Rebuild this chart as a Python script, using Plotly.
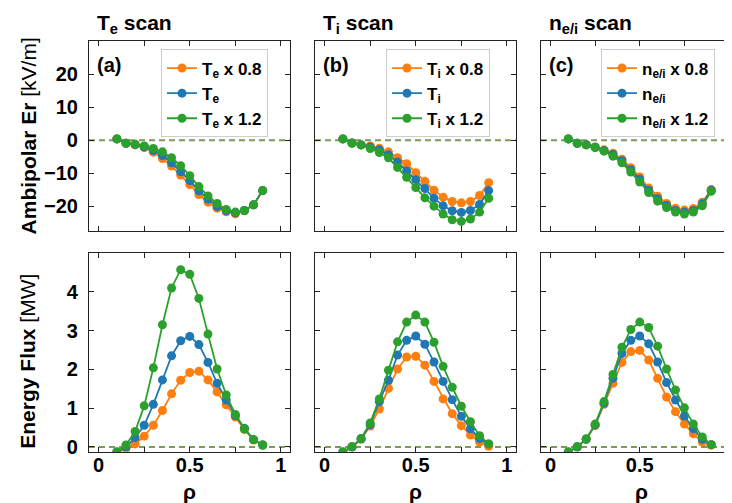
import plotly.graph_objects as go

rho = [0.10, 0.15, 0.20, 0.25, 0.30, 0.35, 0.40, 0.45, 0.50, 0.55, 0.60, 0.65, 0.70, 0.75, 0.80, 0.85, 0.90]

# Ambipolar Er [kV/m]
er_te_08 = [0.4, -0.9, -1.4, -2.2, -3.6, -5.5, -7.8, -10.5, -13.4, -16.4, -18.7, -20.5, -21.6, -22.2, -21.3, -19.5, -15.2]
er_te_10 = [0.4, -0.9, -1.3, -2.0, -3.1, -4.6, -6.8, -9.5, -12.2, -15.3, -17.8, -20.0, -21.3, -21.9, -21.2, -19.5, -15.2]
er_te_12 = [0.4, -0.9, -1.2, -1.7, -2.5, -3.5, -5.3, -7.7, -10.7, -14.0, -16.8, -19.1, -20.9, -21.7, -21.2, -19.5, -15.2]

er_ti_08 = [0.4, -0.8, -1.4, -1.7, -2.4, -3.5, -5.3, -7.1, -9.8, -12.4, -15.1, -17.2, -18.5, -18.9, -18.5, -16.7, -12.8]
er_ti_10 = [0.4, -0.8, -1.4, -2.0, -2.9, -4.4, -6.6, -9.3, -11.9, -14.6, -17.5, -19.8, -21.3, -21.8, -21.2, -19.4, -15.2]
er_ti_12 = [0.4, -0.9, -1.4, -2.5, -3.7, -5.3, -8.2, -11.2, -14.3, -17.4, -19.9, -22.3, -24.0, -24.5, -23.8, -21.7, -17.5]

er_n_08 = [0.4, -0.9, -1.3, -2.0, -2.9, -3.9, -5.7, -8.3, -11.1, -14.4, -16.9, -19.1, -20.5, -21.1, -20.6, -18.7, -14.9]
er_n_10 = [0.4, -0.9, -1.35, -2.1, -3.1, -4.3, -6.2, -8.9, -11.8, -15.1, -17.7, -19.7, -21.2, -21.7, -21.2, -19.2, -15.1]
er_n_12 = [0.4, -0.9, -1.4, -2.2, -3.3, -4.8, -6.8, -9.6, -12.6, -15.8, -18.4, -20.3, -21.7, -22.3, -21.7, -19.8, -15.4]

# Energy Flux [MW]
q_te_08 = [-0.13, -0.04, 0.08, 0.28, 0.56, 0.94, 1.37, 1.72, 1.92, 1.95, 1.73, 1.42, 1.09, 0.77, 0.45, 0.18, 0.05]
q_te_10 = [-0.13, 0.00, 0.24, 0.56, 1.10, 1.73, 2.35, 2.74, 2.85, 2.64, 2.18, 1.64, 1.21, 0.81, 0.48, 0.19, 0.05]
q_te_12 = [-0.13, 0.05, 0.40, 1.06, 2.04, 3.15, 4.10, 4.57, 4.45, 3.83, 2.91, 2.01, 1.34, 0.84, 0.47, 0.19, 0.05]

q_ti_08 = [-0.13, 0.00, 0.20, 0.54, 0.98, 1.51, 2.01, 2.32, 2.34, 2.11, 1.69, 1.24, 0.86, 0.55, 0.31, 0.13, 0.02]
q_ti_10 = [-0.13, 0.00, 0.21, 0.58, 1.17, 1.72, 2.37, 2.75, 2.86, 2.65, 2.19, 1.69, 1.22, 0.79, 0.47, 0.22, 0.08]
q_ti_12 = [-0.13, 0.01, 0.22, 0.62, 1.24, 1.98, 2.71, 3.22, 3.40, 3.22, 2.70, 2.08, 1.54, 1.05, 0.65, 0.29, 0.08]

q_n_08 = [-0.13, 0.00, 0.20, 0.55, 1.10, 1.64, 2.18, 2.46, 2.49, 2.24, 1.77, 1.29, 0.91, 0.59, 0.34, 0.13, 0.05]
q_n_10 = [-0.13, 0.00, 0.20, 0.57, 1.13, 1.77, 2.41, 2.75, 2.86, 2.66, 2.19, 1.66, 1.21, 0.80, 0.47, 0.20, 0.06]
q_n_12 = [-0.13, 0.01, 0.21, 0.59, 1.17, 1.87, 2.57, 3.03, 3.22, 3.08, 2.60, 2.01, 1.47, 1.01, 0.59, 0.26, 0.06]

panel_titles = ["T<sub>e</sub> scan", "T<sub>i</sub> scan", "n<sub>e/i</sub> scan"]
panel_labels = ["(a)", "(b)", "(c)"]
var_names = ["T<sub>e</sub>", "T<sub>i</sub>", "n<sub>e/i</sub>"]
x_ticks = [0, 0.25, 0.5, 0.75, 1]
x_ticktext = ["0", "", "0.5", "", "1"]
er_ticks = [-20, -10, 0, 10, 20]
q_ticks = [0, 1, 2, 3, 4]

colors = ["#ff7f0e", "#1f77b4", "#2ca02c"]
FONT = "Liberation Sans, Arial, Helvetica, sans-serif"

W, H = 732, 503
xpx = [(81, 282), (307, 508), (533, 730)]
top_px = (33, 226)
bot_px = (248, 449)


def xd(a, b):
    return [a / W, b / W]


def yd(a, b):
    return [1 - b / H, 1 - a / H]


er_sets = [(er_te_08, er_te_10, er_te_12), (er_ti_08, er_ti_10, er_ti_12), (er_n_08, er_n_10, er_n_12)]
q_sets = [(q_te_08, q_te_10, q_te_12), (q_ti_08, q_ti_10, q_ti_12), (q_n_08, q_n_10, q_n_12)]
suffix = [" x 0.8", "", " x 1.2"]

fig = go.Figure()
for p in range(3):
    top_ax = p + 1
    bot_ax = p + 4
    leg = "legend" if p == 0 else f"legend{p + 1}"
    for k in range(3):
        fig.add_trace(go.Scatter(
            x=rho, y=er_sets[p][k], mode="lines+markers",
            line=dict(color=colors[k], width=1.8),
            marker=dict(color=colors[k], size=9),
            name=var_names[p] + suffix[k],
            xaxis=f"x{top_ax}" if top_ax > 1 else "x",
            yaxis=f"y{top_ax}" if top_ax > 1 else "y",
            legend=leg, showlegend=True,
        ))
    for k in range(3):
        fig.add_trace(go.Scatter(
            x=rho, y=q_sets[p][k], mode="lines+markers",
            line=dict(color=colors[k], width=1.8),
            marker=dict(color=colors[k], size=9),
            name=var_names[p] + suffix[k],
            xaxis=f"x{bot_ax}", yaxis=f"y{bot_ax}",
            showlegend=False,
        ))

axis_common = dict(
    showline=True, linecolor="#222222", linewidth=1.2, mirror="allticks",
    ticks="inside", ticklen=5, tickwidth=1, tickcolor="#222222",
    showgrid=False, zeroline=False,
    tickfont=dict(family=FONT, size=20, color="black", weight="bold"),
)

layout = dict(
    width=W, height=H, margin=dict(l=0, r=0, t=0, b=0),
    plot_bgcolor="white", paper_bgcolor="white",
    font=dict(family=FONT, color="black"),
)

for p in range(3):
    a, b = xpx[p]
    for row, (ypx, ax_id) in enumerate([(top_px, p + 1), (bot_px, p + 4)]):
        xname = "xaxis" if ax_id == 1 else f"xaxis{ax_id}"
        yname = "yaxis" if ax_id == 1 else f"yaxis{ax_id}"
        ax_ref = "x" if ax_id == 1 else f"x{ax_id}"
        ay_ref = "y" if ax_id == 1 else f"y{ax_id}"
        layout[xname] = dict(
            axis_common, domain=xd(a, b), anchor=ay_ref, range=[-0.053, 1.05],
            tickvals=x_ticks, ticktext=x_ticktext,
            showticklabels=(row == 1), ticklabelstandoff=-5,
        )
        if row == 0:
            yr, yt = [-27.5, 30.1], er_ticks
        else:
            yr, yt = [-0.12, 5.0], q_ticks
        layout[yname] = dict(
            axis_common, domain=yd(*ypx), anchor=ax_ref, range=yr,
            tickvals=yt, showticklabels=(p == 0), ticklabelstandoff=6,
        )

fig.update_layout(**layout)

# dashed zero lines
for ax_id in range(1, 7):
    xr = "x domain" if ax_id == 1 else f"x{ax_id} domain"
    yr = "y" if ax_id == 1 else f"y{ax_id}"
    fig.add_shape(type="line", xref=xr, yref=yr, x0=0, x1=1, y0=0, y1=0,
                  line=dict(color="#7a9a55", width=1.8, dash="6px,4px"), layer="below")

# legends
leg_px = [(153, 42), (378, 42), (593, 42)]
for p in range(3):
    name = "legend" if p == 0 else f"legend{p + 1}"
    fig.update_layout(**{name: dict(
        x=leg_px[p][0] / W, y=1 - leg_px[p][1] / H, xanchor="left", yanchor="top",
        bgcolor="rgba(255,255,255,0.9)", bordercolor="#cccccc", borderwidth=1,
        font=dict(family=FONT, size=17, color="black", weight="bold"),
        tracegroupgap=0, itemwidth=30,
    )})

annotations = []
for p in range(3):
    a, b = xpx[p]
    annotations.append(dict(
        text=f"<b>{panel_titles[p]}</b>", x=(a + 6) / W, y=1 - 16 / H,
        xref="paper", yref="paper", xanchor="left", yanchor="middle",
        showarrow=False, font=dict(family=FONT, size=21, color="black"),
    ))
    annotations.append(dict(
        text=f"<b>{panel_labels[p]}</b>", x=(a + 6) / W, y=1 - 58 / H,
        xref="paper", yref="paper", xanchor="left", yanchor="middle",
        showarrow=False, font=dict(family=FONT, size=20, color="black"),
    ))
    annotations.append(dict(
        text="<b>ρ</b>", x=(a + 9.7 + 91) / W, y=1 - 489 / H,
        xref="paper", yref="paper", xanchor="center", yanchor="middle",
        showarrow=False, font=dict(family=FONT, size=21, color="black"),
    ))

annotations.append(dict(
    text="<b>Ambipolar Er</b> [kV/m]", x=20 / W, y=1 - 130 / H, textangle=-90,
    xref="paper", yref="paper", xanchor="center", yanchor="middle",
    showarrow=False, font=dict(family=FONT, size=21, color="black"),
))
annotations.append(dict(
    text="<b>Energy Flux</b> [MW]", x=20 / W, y=1 - 358 / H, textangle=-90,
    xref="paper", yref="paper", xanchor="center", yanchor="middle",
    showarrow=False, font=dict(family=FONT, size=21, color="black"),
))
fig.update_layout(annotations=annotations)

fig.write_html("out.html")
